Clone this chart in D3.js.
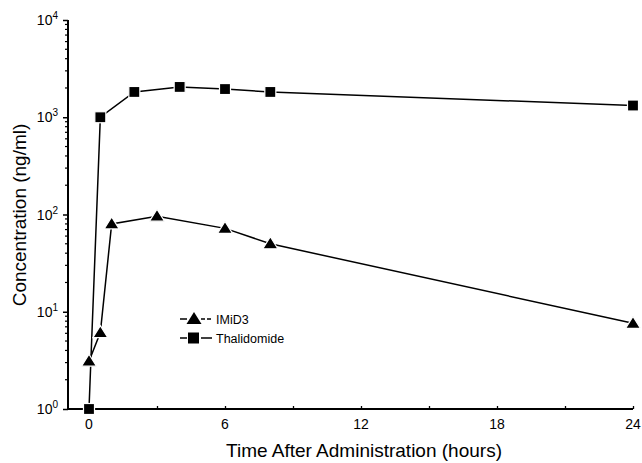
<!DOCTYPE html>
<html><head><meta charset="utf-8">
<script src="https://cdn.jsdelivr.net/npm/d3@7"></script>
<style>body{margin:0;background:#fff}svg{display:block}text{font-family:"Liberation Sans",Arial,Helvetica,sans-serif;fill:#000}</style>
</head><body><svg id="c" width="642" height="463"></svg>
<script>
const thalTimes = [0, 0.5, 2, 4, 6, 8, 24];
const thalValues = [1, 1000, 1820, 2050, 1950, 1820, 1320];
const imidTimes = [0, 0.5, 1, 3, 6, 8, 24];
const imidValues = [3.1, 6.1, 80, 96, 72, 50, 7.6];
const xTicks = [0, 6, 12, 18, 24];
const xMinor = [3, 9, 15, 21];
const yExponents = [0, 1, 2, 3, 4];
const seriesNames = ["IMiD3", "Thalidomide"];

const svg = d3.select("#c");
const x = d3.scaleLinear().domain([0, 24]).range([89, 633]);
const y = d3.scaleLog().domain([1, 10000]).range([409, 20]);
const axX0 = 68;

// Y axis
const yAxis = d3.axisLeft(y).tickValues(yExponents.map(e => Math.pow(10, e))).tickSize(5).tickFormat("");
const gy = svg.append("g").attr("transform", `translate(${axX0},0)`).call(yAxis);
gy.select(".domain").attr("stroke-width", 2).attr("d", `M0,${y(10000)}V${y(1)}`);
gy.selectAll(".tick line").attr("stroke-width", 1.5);
const minor = [];
for (let e = 0; e < 4; e++) for (let k = 2; k <= 9; k++) minor.push(k * Math.pow(10, e));
gy.selectAll(".minor").data(minor).enter().append("line")
  .attr("x1", -3).attr("x2", 0).attr("y1", d => y(d)).attr("y2", d => y(d))
  .attr("stroke", "#000").attr("stroke-width", 1.2);
yExponents.forEach(e => {
  const t = svg.append("text").attr("x", 58).attr("y", y(Math.pow(10, e)) + 5)
    .attr("text-anchor", "end").attr("font-size", 14);
  t.append("tspan").text("10");
  t.append("tspan").attr("dy", -6).attr("font-size", 10).text(e);
});

// X axis
const gx = svg.append("g").attr("transform", `translate(0,${y(1)})`)
  .call(d3.axisBottom(x).tickValues(xTicks.concat(xMinor)).tickSize(-3).tickFormat(""));
gx.select(".domain").attr("stroke-width", 2).attr("d", `M${axX0},0H${x(24)}`);
gx.selectAll(".tick line").attr("stroke-width", 1.3);
gx.selectAll(".lbl").data(xTicks).enter().append("text")
  .attr("x", d => x(d)).attr("y", 20).attr("text-anchor", "middle").attr("font-size", 14).text(d => d);

// Titles
svg.append("text").attr("x", 364).attr("y", 457).attr("text-anchor", "middle").attr("font-size", 19)
  .text("Time After Administration (hours)");
svg.append("text").attr("transform", "translate(26,215) rotate(-90)").attr("text-anchor", "middle")
  .attr("font-size", 19).text("Concentration (ng/ml)");

// Lines
const line = d3.line().x(d => x(d[0])).y(d => y(d[1]));
const thal = thalTimes.map((t, i) => [t, thalValues[i]]);
const imid = imidTimes.map((t, i) => [t, imidValues[i]]);
[thal, imid].forEach(data => {
  svg.append("path").datum(data).attr("d", line).attr("fill", "none").attr("stroke", "#000").attr("stroke-width", 1.5);
});

const triPath = (cx, cy) => `M${cx},${cy - 7}L${cx + 7.5},${cy + 5}L${cx - 7.5},${cy + 5}Z`;
svg.selectAll(".sq").data(thal).enter().append("rect")
  .attr("x", d => x(d[0]) - 5.5).attr("y", d => y(d[1]) - 5.5).attr("width", 11).attr("height", 11)
  .attr("fill", "#000").attr("stroke", "#fff").attr("stroke-width", 1.2);
svg.selectAll(".tri").data(imid).enter().append("path")
  .attr("d", d => triPath(x(d[0]), y(d[1])))
  .attr("fill", "#000").attr("stroke", "#fff").attr("stroke-width", 1.2);

// Legend
const lg = svg.append("g");
[319, 338].forEach((ly, i) => {
  lg.append("line").attr("x1", 180).attr("x2", 187).attr("y1", ly).attr("y2", ly).attr("stroke", "#000").attr("stroke-width", 1.5);
  lg.append("line").attr("x1", 201).attr("x2", 212).attr("y1", ly).attr("y2", ly).attr("stroke", "#000").attr("stroke-width", 1.5)
    .attr("stroke-dasharray", i === 0 ? "4,2" : null);
  if (i === 0) lg.append("path").attr("d", triPath(194, ly)).attr("fill", "#000");
  else lg.append("rect").attr("x", 188).attr("y", ly - 5.5).attr("width", 11).attr("height", 11).attr("fill", "#000");
  lg.append("text").attr("x", 216).attr("y", ly + 4.5).attr("font-size", 12.5).text(seriesNames[i]);
});
</script></body></html>
